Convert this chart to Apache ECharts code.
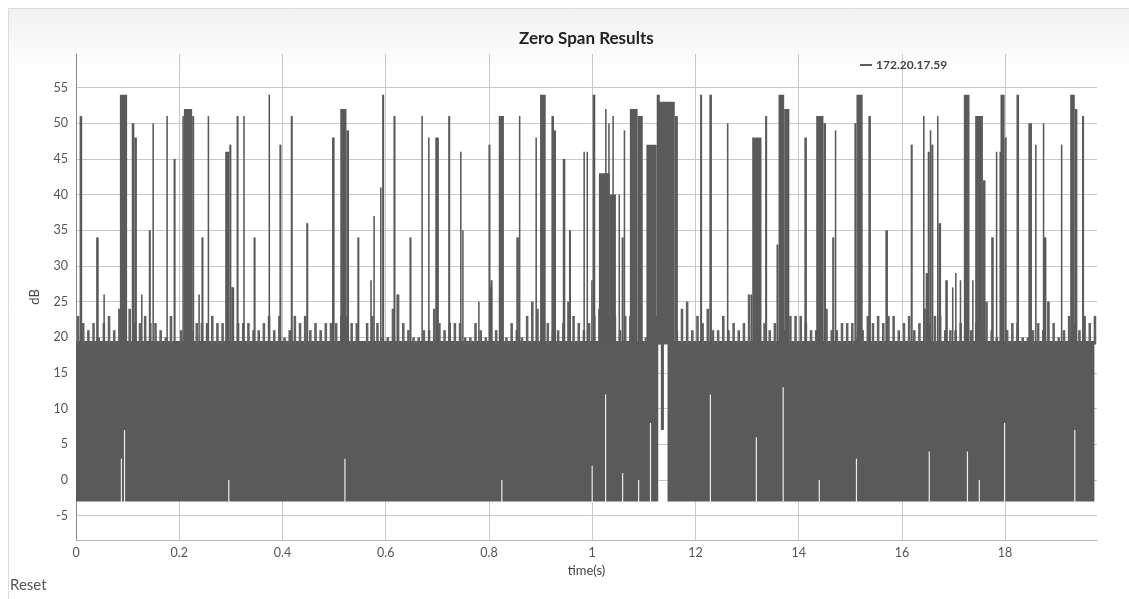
<!DOCTYPE html>
<html>
<head>
<meta charset="utf-8">
<script src="https://cdn.jsdelivr.net/npm/echarts@6/dist/echarts.min.js"></script>
<style>
html,body{margin:0;padding:0;background:#fff;}
#chart{width:1129px;height:599px;}
</style>
</head>
<body>
<div id="chart"></div>
<script>
// ---------------- data ----------------
const seriesName = '172.20.17.59';
const titleText = 'Zero Span Results';
const xName = 'time(s)';
const yName = 'dB';

const xTickValues = [0, 0.2, 0.4, 0.6, 0.8, 1, 1.2, 1.4, 1.6, 1.8];
const xTickLabels = ['0', '0.2', '0.4', '0.6', '0.8', '1', '12', '14', '16', '18'];
const yTickValues = [-5, 0, 5, 10, 15, 20, 25, 30, 35, 40, 45, 50, 55];

// dense noise floor: [t start, t end, low dB, high dB]
const floorSegments = [
  [0.000, 1.128, -3, 19.5],
  [1.146, 1.973, -3, 19.5],
  [1.133, 1.139, 7, 19.5]
];

// upper edge of the noise floor, one value per 0.01 s bin (dB)
const floorBinWidth = 0.01;
const floorTop = [
  23,22,21,22,20,22,23,21,24,25,
  24,22,22,23,22,22,21,20,23,19,
  21,21,21,22,22,22,23,22,22,23,
  27,22,22,22,21,21,22,23,21,23,
  20,21,23,22,23,21,22,21,22,22,
  22,23,23,22,22,19,22,23,22,20,
  20,24,26,22,21,20,20,21,21,24,
  22,21,22,22,22,20,20,22,21,20,
  27,21,20,20,22,21,20,23,25,24,
  22,22,21,21,22,25,23,22,21,22,
  23,24,24,23,23,21,23,23,23,21,
  20,23,23,19,19,21,21,24,25,21,
  23,22,24,21,21,23,21,22,21,22,
  26,21,22,22,21,22,20,21,23,23,
  23,22,21,21,21,24,21,21,22,22,
  22,20,21,23,22,23,22,23,23,21,
  22,23,21,22,24,22,23,23,21,21,
  21,22,23,21,22,22,25,21,20,22,
  21,22,22,20,20,21,22,21,25,22,
  20,21,23,22,21,23,22,23
];

// bursts above the floor: [t start, t end, peak dB]
const spikes = [
  [0.007,0.012,51],[0.039,0.044,34],[0.053,0.056,26],[0.085,0.099,54],
  [0.108,0.113,50],[0.113,0.118,48],[0.126,0.129,26],[0.141,0.145,35],
  [0.148,0.151,50],[0.175,0.178,51],[0.189,0.193,45],[0.206,0.209,51],
  [0.209,0.225,52],[0.225,0.229,51],[0.237,0.240,26],[0.243,0.247,34],
  [0.255,0.258,51],[0.289,0.297,46],[0.297,0.301,47],[0.301,0.305,27],
  [0.311,0.315,51],[0.324,0.327,51],[0.344,0.348,34],[0.373,0.376,54],
  [0.394,0.398,47],[0.416,0.420,51],[0.446,0.450,36],[0.496,0.501,48],
  [0.512,0.524,52],[0.524,0.529,49],[0.545,0.549,34],[0.570,0.573,28],
  [0.576,0.579,37],[0.589,0.592,41],[0.593,0.597,54],[0.615,0.619,51],
  [0.621,0.624,26],[0.646,0.650,34],[0.669,0.672,51],[0.682,0.685,48],
  [0.696,0.703,48],[0.721,0.725,51],[0.744,0.747,46],[0.748,0.751,35],
  [0.779,0.782,25],[0.799,0.803,47],[0.803,0.807,28],[0.819,0.829,51],
  [0.853,0.858,34],[0.858,0.861,51],[0.890,0.893,48],[0.899,0.910,54],
  [0.921,0.926,51],[0.926,0.930,49],[0.943,0.948,45],[0.955,0.959,35],
  [0.983,0.986,46],[0.989,0.992,46],[0.998,1.001,28],[1.001,1.006,54],
  [1.013,1.034,43],[1.025,1.028,52],[1.031,1.034,50],[1.034,1.046,40],
  [1.039,1.042,51],[1.051,1.054,40],[1.057,1.061,34],[1.061,1.064,49],
  [1.073,1.088,52],[1.088,1.098,51],[1.105,1.125,47],[1.125,1.131,54],
  [1.129,1.160,53],[1.160,1.166,51],[1.209,1.213,54],[1.227,1.232,54],
  [1.261,1.264,50],[1.307,1.310,26],[1.310,1.328,48],[1.335,1.339,51],
  [1.357,1.361,33],[1.361,1.372,54],[1.372,1.382,52],[1.411,1.416,48],
  [1.434,1.448,51],[1.448,1.453,50],[1.465,1.469,34],[1.470,1.473,49],
  [1.508,1.512,50],[1.512,1.524,54],[1.535,1.540,51],[1.568,1.573,35],
  [1.617,1.621,47],[1.641,1.644,51],[1.646,1.651,29],[1.650,1.654,46],
  [1.654,1.657,49],[1.657,1.661,47],[1.668,1.671,51],[1.671,1.676,36],
  [1.684,1.689,28],[1.697,1.700,27],[1.703,1.706,29],[1.712,1.715,28],
  [1.720,1.731,54],[1.736,1.739,28],[1.742,1.757,51],[1.757,1.762,42],
  [1.773,1.778,34],[1.782,1.785,46],[1.789,1.793,46],[1.791,1.799,54],
  [1.799,1.803,48],[1.822,1.827,54],[1.845,1.852,50],[1.858,1.861,47],
  [1.873,1.876,50],[1.875,1.880,34],[1.882,1.885,25],[1.908,1.911,47],
  [1.926,1.935,54],[1.935,1.940,52],[1.949,1.953,51]
];

// short dropouts in the floor: [t, top dB]
const dropouts = [
  [0.088,3],[0.094,7],[0.296,0],[0.521,3],[0.825,0],[1.000,2],[1.026,12],
  [1.059,1],[1.090,0],[1.113,8],[1.229,12],[1.318,6],[1.370,13],[1.440,0],
  [1.512,3],[1.653,4],[1.727,4],[1.750,0],[1.799,8],[1.935,7]
];

// ---------------- chart ----------------
const LINE = '#5a5a5a';
const floorTopBase = 19.5;
const spikeBase = 19;
const FONT = 'Lato, "Open Sans", sans-serif';

function rectShape(api, t0, t1, lo, hi, minW) {
  const a = api.coord([t0, hi]);
  const b = api.coord([t1, lo]);
  let x = a[0], w = b[0] - a[0];
  if (w < minW) { x -= (minW - w) / 2; w = minW; }
  return { x: x, y: a[1], width: w, height: b[1] - a[1] };
}

const fringeData = floorTop.map((v, i) => [i * floorBinWidth, v]);

const chart = echarts.init(document.getElementById('chart'), null, { renderer: 'canvas' });

const axisFont = { fontFamily: FONT, fontSize: 12.5, color: '#555' };

chart.setOption({
  animation: false,
  backgroundColor: '#fff',
  graphic: [
    { type: 'rect', z: -10, silent: true,
      shape: { x: 8.5, y: 8.5, width: 1140, height: 620 },
      style: { fill: { type: 'linear', x: 0, y: 0, x2: 0, y2: 1, colorStops: [
        { offset: 0, color: '#f1f1f1' }, { offset: 0.07, color: '#fafafa' }, { offset: 0.1, color: '#ffffff' }, { offset: 1, color: '#ffffff' }
      ] }, stroke: '#dcdcdc', lineWidth: 1 } },
    { type: 'text', left: 10, top: 578, silent: true,
      style: { text: 'Reset', fill: '#555', font: '15px ' + FONT } }
  ],
  title: {
    text: titleText, left: 514, top: 25,
    textStyle: { fontFamily: FONT, fontSize: 17, fontWeight: 'bold', color: '#222' }
  },
  legend: {
    data: [{ name: seriesName, icon: 'rect' }],
    left: 855, top: 54,
    itemWidth: 12, itemHeight: 2, itemGap: 4,
    textStyle: { fontFamily: FONT, fontSize: 12, fontWeight: 'bold', color: '#444', padding: [0,0,0,-1] }
  },
  grid: { left: 76, right: 32, top: 54, bottom: 59 },
  xAxis: {
    type: 'value', min: 0, max: 1.978, interval: 0.2,
    name: xName, nameLocation: 'middle', nameGap: 21,
    nameTextStyle: { fontFamily: FONT, fontSize: 13, color: '#444' },
    axisLine: { show: true, onZero: false, lineStyle: { color: '#bbb', width: 1 } },
    axisTick: { show: false },
    axisLabel: Object.assign({
      margin: 6,
      formatter: function (v) {
        for (let i = 0; i < xTickValues.length; i++) {
          if (Math.abs(v - xTickValues[i]) < 1e-6) return xTickLabels[i];
        }
        return '';
      }
    }, axisFont),
    splitLine: { show: true, showMinLine: false, showMaxLine: false, lineStyle: { color: '#c8c8c8', width: 1 } }
  },
  yAxis: {
    type: 'value', min: -8.4, max: 59.7, splitNumber: 14,
    name: yName, nameLocation: 'middle', nameGap: 35, nameRotate: 90,
    nameTextStyle: { fontFamily: FONT, fontSize: 13, color: '#444' },
    axisLine: { show: true, onZero: false, lineStyle: { color: '#888', width: 1 } },
    axisTick: { show: false },
    axisLabel: Object.assign({
      margin: 8,
      formatter: function (v) {
        for (let i = 0; i < yTickValues.length; i++) {
          if (Math.abs(v - yTickValues[i]) < 1e-6) return String(yTickValues[i]);
        }
        return '';
      }
    }, axisFont),
    splitLine: { show: true, showMinLine: false, showMaxLine: false, lineStyle: { color: '#c8c8c8', width: 1 } }
  },
  series: [
    {
      name: seriesName, type: 'custom', clip: true, z: 2,
      itemStyle: { color: LINE },
      data: floorSegments,
      renderItem: function (params, api) {
        return { type: 'rect',
          shape: rectShape(api, api.value(0), api.value(1), api.value(2), api.value(3), 1),
          style: { fill: LINE } };
      }
    },
    {
      name: 'fringe', type: 'custom', clip: true, z: 2,
      data: fringeData,
      renderItem: function (params, api) {
        const t = api.value(0);
        return { type: 'rect',
          shape: rectShape(api, t + floorBinWidth * 0.15, t + floorBinWidth * 0.65, floorTopBase - 0.5, api.value(1), 1),
          style: { fill: '#626262' } };
      }
    },
    {
      name: 'spikes', type: 'custom', clip: true, z: 3,
      data: spikes,
      renderItem: function (params, api) {
        return { type: 'rect',
          shape: rectShape(api, api.value(0), api.value(1), spikeBase, api.value(2), 1.5),
          style: { fill: LINE } };
      }
    },
    {
      name: 'dropouts', type: 'custom', clip: true, z: 4,
      data: dropouts,
      renderItem: function (params, api) {
        const t = api.value(0);
        return { type: 'rect',
          shape: rectShape(api, t, t, -3.2, api.value(1), 1.2),
          style: { fill: '#ececec' } };
      }
    }
  ]
});
</script>
</body>
</html>
